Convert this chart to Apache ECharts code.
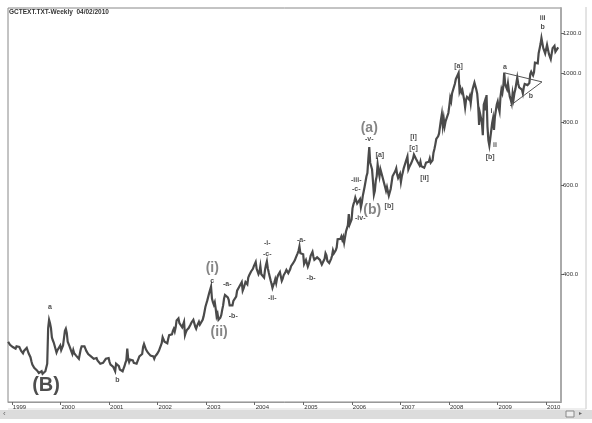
<!DOCTYPE html>
<html><head><meta charset="utf-8">
<script src="https://cdn.jsdelivr.net/npm/echarts@6/dist/echarts.min.js"></script>
<style>html,body{margin:0;padding:0;background:#fff}#c{width:592px;height:423px}</style>
</head><body><div id="c"></div>
<script>
// Weekly closes (Fridays), first week 1998-12-04
const firstWeek = [1998, 11, 4];
const p1998 = [294, 292, 290, 288];
const p1999 = [288, 287, 289, 287, 285, 288, 289, 287, 287, 286, 282, 281, 279, 282, 282, 284, 286, 284, 279, 277, 274, 269, 265, 263, 261, 261, 263, 258, 256, 255, 256, 255, 257, 254, 255, 256, 257, 256, 266, 313, 325, 320, 313, 300, 296, 293, 295, 293, 280, 283, 282, 285, 289];
const p2000 = [283, 284, 289, 287, 309, 312, 306, 294, 292, 288, 286, 281, 278, 283, 279, 281, 276, 276, 276, 272, 274, 284, 288, 287, 289, 288, 285, 282, 280, 278, 276, 276, 275, 277, 276, 272, 271, 274, 273, 270, 272, 269, 266, 265, 266, 267, 268, 269, 272, 271, 274, 273];
const p2001 = [268, 265, 265, 265, 262, 260, 257, 266, 264, 266, 263, 259, 258, 257, 257, 260, 263, 267, 270, 285, 272, 268, 271, 273, 271, 270, 267, 267, 268, 266, 268, 272, 275, 273, 275, 278, 287, 291, 290, 284, 284, 280, 279, 279, 276, 274, 274, 275, 272, 275, 277, 278];
const p2002 = [279, 282, 283, 282, 292, 300, 297, 294, 296, 293, 292, 298, 303, 301, 302, 304, 309, 312, 308, 314, 324, 326, 327, 320, 322, 318, 314, 318, 322, 303, 307, 310, 312, 313, 312, 318, 321, 322, 325, 320, 315, 312, 316, 318, 322, 318, 318, 318, 325, 330, 337, 345];
const p2003 = [350, 355, 355, 367, 367, 378, 358, 352, 348, 352, 342, 330, 334, 325, 324, 328, 332, 340, 347, 358, 364, 361, 367, 360, 356, 347, 348, 345, 347, 354, 352, 357, 361, 371, 373, 377, 378, 380, 386, 371, 375, 377, 386, 385, 382, 394, 398, 397, 405, 408, 410, 415];
const p2004 = [416, 423, 410, 408, 400, 404, 415, 400, 397, 397, 394, 408, 417, 424, 411, 403, 396, 389, 383, 376, 381, 385, 391, 384, 393, 398, 396, 404, 401, 388, 392, 398, 398, 404, 408, 407, 402, 403, 409, 415, 418, 420, 423, 426, 431, 434, 440, 445, 454, 440, 440, 442, 438];
const p2005 = [419, 422, 427, 424, 414, 419, 426, 435, 436, 443, 433, 427, 425, 425, 432, 435, 435, 427, 422, 418, 418, 421, 429, 440, 436, 425, 422, 421, 424, 429, 435, 446, 440, 439, 446, 452, 469, 469, 473, 470, 475, 468, 474, 462, 465, 486, 493, 500, 526, 502, 502, 513];
const p2006 = [540, 550, 557, 567, 572, 552, 556, 556, 563, 543, 554, 571, 583, 596, 595, 625, 634, 677, 714, 665, 655, 645, 610, 575, 585, 613, 625, 660, 640, 625, 645, 643, 625, 623, 625, 595, 585, 595, 598, 572, 575, 590, 595, 625, 620, 625, 640, 648, 630, 620, 622, 632];
const p2007 = [609, 625, 636, 648, 650, 666, 668, 684, 645, 652, 656, 663, 665, 677, 690, 694, 678, 681, 667, 663, 657, 668, 654, 655, 655, 650, 657, 665, 670, 670, 668, 678, 665, 664, 672, 696, 708, 723, 741, 738, 750, 760, 784, 808, 830, 787, 813, 785, 803, 806, 797, 834];
const p2008 = [862, 894, 880, 913, 910, 921, 953, 973, 973, 974, 1001, 920, 933, 917, 926, 933, 885, 856, 886, 897, 902, 888, 900, 872, 905, 929, 931, 958, 958, 928, 910, 864, 790, 832, 832, 800, 754, 866, 878, 844, 905, 784, 736, 719, 743, 748, 796, 814, 772, 820, 843, 867];
const p2009 = [879, 854, 839, 899, 928, 914, 941, 1003, 952, 940, 930, 955, 924, 898, 886, 871, 912, 888, 914, 930, 956, 980, 954, 937, 930, 938, 928, 912, 937, 952, 955, 958, 947, 942, 956, 996, 1007, 1010, 990, 1004, 1049, 1053, 1056, 1046, 1096, 1118, 1142, 1174, 1166, 1120, 1110, 1094];
const p2010 = [1096, 1138, 1130, 1092, 1083, 1066, 1093, 1121, 1119, 1133, 1103, 1107, 1104, 1125];

const yearLabels = [1999, 2000, 2001, 2002, 2003, 2004, 2005, 2006, 2007, 2008, 2009, 2010];
const priceLabels = [400, 600, 800, 1000, 1200];

// Elliott wave annotations
const smallText  = ['a', 'b', 'c', '-a-', '-b-', '-i-', '-c-', '-ii-', '-a-', '-b-', '-v-', '[a]', '-iii-', '-c-', '-iv-', '[b]', '[i]', '[c]', '[ii]', '[a]', 'i', 'ii', '[b]', 'a', 'b', 'iii', 'b'];
const smallDate  = ['1999-10-15', '2001-03-04', '2003-02-16', '2003-06-09', '2003-07-24', '2004-04-05', '2004-04-05', '2004-05-12', '2004-12-17', '2005-02-28', '2006-05-12', '2006-07-31', '2006-02-03', '2006-02-03', '2006-03-05', '2006-10-08', '2007-04-10', '2007-04-10', '2007-07-02', '2008-03-13', '2008-11-17', '2008-12-13', '2008-11-06', '2009-02-25', '2009-09-08', '2009-12-06', '2009-12-06'];
const smallPrice = [345, 247, 387, 382, 330, 460, 438, 358, 467, 393, 742, 687, 613, 591, 516, 545, 749, 712, 619, 1034, 843, 722, 683, 1028, 899, 1288, 1234];
const bigText  = ['(i)', '(ii)', '(a)', '(b)'];
const bigDate  = ['2003-02-16', '2003-04-09', '2006-05-12', '2006-06-03'];
const bigPrice = [411, 307, 780, 535];
const waveBText = ['(B)'];
const waveBDate = ['1999-09-15'];
const waveBPrice = [241];
const triUpper = [['2009-02-25', 1001], ['2009-12-01', 961]];
const triLower = [['2009-04-05', 862], ['2009-12-01', 961]];

const DAY = 86400000;
const ts = s => { const d = s.split('-').map(Number); return Date.UTC(d[0], d[1] - 1, d[2]); };
const allYears = [p1998, p1999, p2000, p2001, p2002, p2003, p2004, p2005, p2006, p2007, p2008, p2009, p2010];
const weekly = [];
let t0 = Date.UTC(firstWeek[0], firstWeek[1], firstWeek[2]);
allYears.forEach(arr => arr.forEach(v => { weekly.push([t0, v]); t0 += 7 * DAY; }));

function notes(texts, dates, prices) {
  return texts.map((s, i) => ({ name: s, value: [ts(dates[i]), prices[i]] }));
}
const seg = pts => pts.map(p => [ts(p[0]), p[1]]);
const font = '"Liberation Sans", Arial, sans-serif';
const yearTs = yearLabels.map(y => Date.UTC(y, 0, 1));

const chart = echarts.init(document.getElementById('c'));
chart.setOption({
  animation: false,
  backgroundColor: '#fff',
  title: {
    text: 'GCTEXT.TXT-Weekly  04/02/2010', left: 9, top: 9, padding: 0,
    textStyle: { fontSize: 6.5, fontWeight: 'bold', color: '#333', fontFamily: font }
  },
  grid: { left: 8, top: 8, right: 31, bottom: 21, show: true, borderColor: '#888', borderWidth: 1 },
  xAxis: {
    type: 'value',
    min: Date.UTC(1998, 11, 3), max: Date.UTC(2010, 3, 23),
    splitLine: { show: false },
    axisLine: { show: true, lineStyle: { color: '#999' } },
    axisTick: { show: true, length: 3, lineStyle: { color: '#666' }, customValues: yearTs },
    axisLabel: {
      customValues: yearTs,
      formatter: v => String(new Date(v).getUTCFullYear()),
      fontSize: 6, color: '#333', fontFamily: font, align: 'left', margin: 2, padding: [0, 0, 0, 1]
    }
  },
  yAxis: {
    type: 'log', position: 'right', min: 223.4, max: 1346,
    splitLine: { show: false },
    axisLine: { show: true, lineStyle: { color: '#aaa', width: 2 } },
    axisTick: { show: true, length: 3, lineStyle: { color: '#666' }, customValues: priceLabels },
    axisLabel: {
      customValues: priceLabels, formatter: v => Number(v).toFixed(1),
      fontSize: 6, color: '#333', fontFamily: font, margin: 2
    }
  },
  graphic: [
    { type: 'rect', shape: { x: 0, y: 410, width: 592, height: 9 }, style: { fill: '#dcdcdc' }, silent: true },
    { type: 'line', shape: { x1: 586, y1: 7, x2: 586, y2: 409 }, style: { stroke: '#c8c8c8', lineWidth: 1 } },
    { type: 'line', shape: { x1: 8, y1: 409, x2: 586, y2: 409 }, style: { stroke: '#ddd', lineWidth: 1 } },
    { type: 'text', left: 3, top: 410, style: { text: '‹', fontSize: 8, fill: '#666' } },
    { type: 'rect', shape: { x: 566, y: 411, width: 8, height: 6 }, style: { fill: '#eee', stroke: '#888', lineWidth: 1 } },
    { type: 'text', left: 579, top: 410, style: { text: '▸', fontSize: 6, fill: '#666' } }
  ],
  series: [
    {
      type: 'line', data: weekly, showSymbol: false, symbol: 'none',
      lineStyle: { color: '#4a4a4a', width: 2.2, join: 'miter' }, z: 2
    },
    { type: 'line', data: seg(triUpper), symbol: 'none', lineStyle: { color: '#555', width: 1 }, z: 3 },
    { type: 'line', data: seg(triLower), symbol: 'none', lineStyle: { color: '#555', width: 1 }, z: 3 },
    {
      type: 'scatter', data: notes(smallText, smallDate, smallPrice), symbolSize: 0, z: 5,
      label: { show: true, position: 'inside', formatter: p => p.name, fontSize: 7, fontWeight: 'bold', color: '#222', fontFamily: font }
    },
    {
      type: 'scatter', data: notes(bigText, bigDate, bigPrice), symbolSize: 0, z: 5,
      label: { show: true, position: 'inside', formatter: p => p.name, fontSize: 14, fontWeight: 'bold', color: '#666', fontFamily: font }
    },
    {
      type: 'scatter', data: notes(waveBText, waveBDate, waveBPrice), symbolSize: 0, z: 5,
      label: { show: true, position: 'inside', formatter: p => p.name, fontSize: 20, fontWeight: 'bold', color: '#222', fontFamily: font }
    }
  ]
});
</script></body></html>
